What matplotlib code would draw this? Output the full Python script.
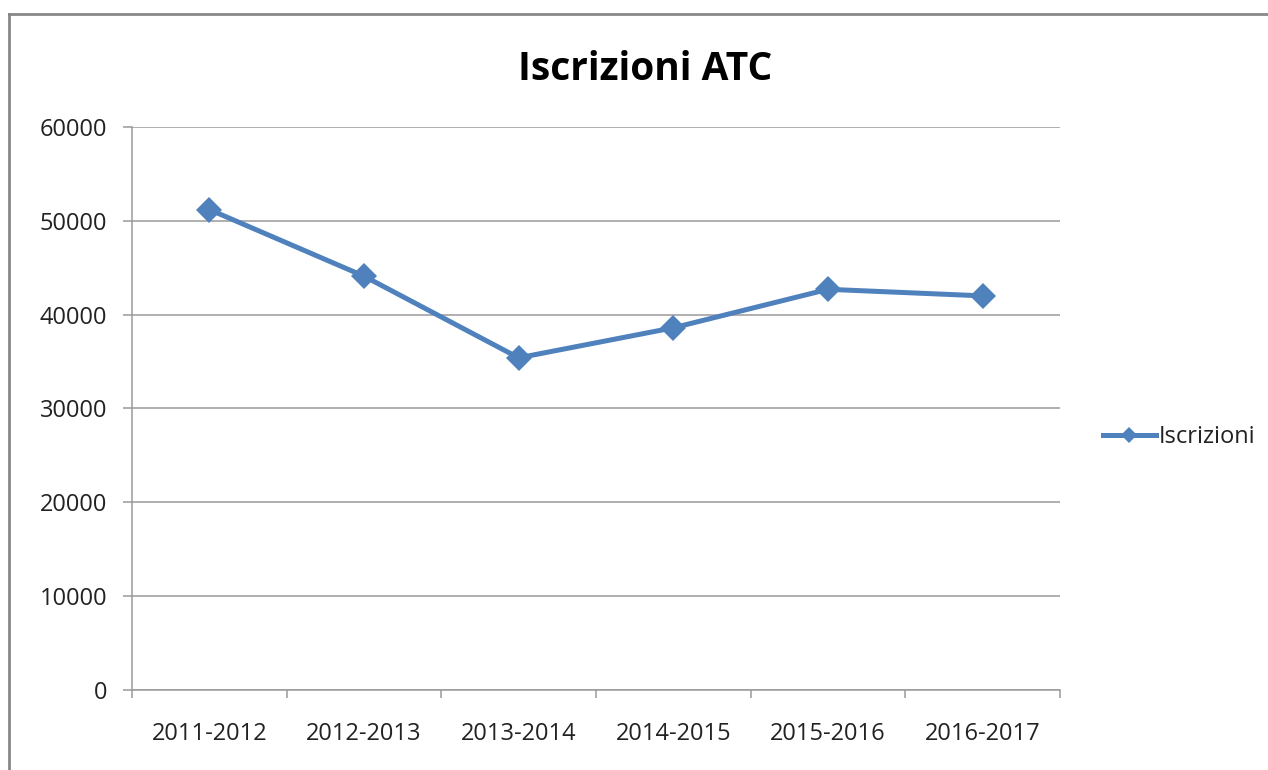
import numpy as np
import matplotlib
matplotlib.use('Agg')
from matplotlib import pyplot as plt
from matplotlib.lines import Line2D

plt.rcParams['font.family'] = ['Open Sans', 'DejaVu Sans']

stagioni = ["2011-2012", "2012-2013", "2013-2014", "2014-2015", "2015-2016", "2016-2017"]
iscrizioni = [51200, 44100, 35400, 38600, 42700, 42000]
y_ticks = [0, 10000, 20000, 30000, 40000, 50000, 60000]

blu = "#4F81BD"
grigio = "#9A9A9A"

fig = plt.figure(figsize=(12.68, 7.7), dpi=100)
ax = fig.add_axes([0.1041, 0.1039, 0.836 - 0.1041, 0.8351 - 0.1039])

x = np.arange(len(stagioni))
ax.plot(x, iscrizioni, color=blu, lw=3.6, marker='D', markersize=13,
        markeredgewidth=0, label="Iscrizioni", solid_joinstyle='round')

ax.set_ylim(0, 60000)
ax.set_yticks(y_ticks)
ax.set_yticklabels([str(v) for v in y_ticks])
ax.set_xlim(-0.5, len(stagioni) - 0.5)
ax.set_xticks(np.arange(-0.5, len(stagioni)))
ax.set_xticklabels([])
ax.set_xticks(x, minor=True)
ax.set_xticklabels(stagioni, minor=True)

ax.grid(axis='y', color=grigio, lw=1.1)
ax.set_axisbelow(True)
for s in ['top', 'right']:
    ax.spines[s].set_visible(False)
for s in ['left', 'bottom']:
    ax.spines[s].set_color(grigio)
    ax.spines[s].set_linewidth(1.1)

ax.tick_params(axis='y', direction='out', length=6.5, width=1.1, color=grigio,
               pad=11.5, labelsize=17, labelcolor='#222222')
ax.tick_params(axis='x', which='major', direction='out', length=6, width=1.1, color=grigio)
ax.tick_params(axis='x', which='minor', length=0, pad=23, labelsize=17, labelcolor='#222222')

fig.text(645 / 1268, 1 - 80 / 770, "Iscrizioni ATC", ha='center', va='baseline',
         fontsize=28, fontweight='bold', color='black')

ax.legend(loc='center left', bbox_to_anchor=(1091 / 1268, 1 - 437 / 770),
          bbox_transform=fig.transFigure, frameon=False, fontsize=17,
          handlelength=2.25, handletextpad=0.1, borderpad=0, markerscale=0.65,
          labelcolor='#222222')

# bordo del grafico
fig.add_artist(Line2D([9 / 1268, 1.0], [1 - 14 / 770, 1 - 14 / 770], color='#888888', lw=2))
fig.add_artist(Line2D([9 / 1268, 9 / 1268], [0, 1 - 14 / 770], color='#888888', lw=2))

plt.savefig("out.png", dpi=100)
